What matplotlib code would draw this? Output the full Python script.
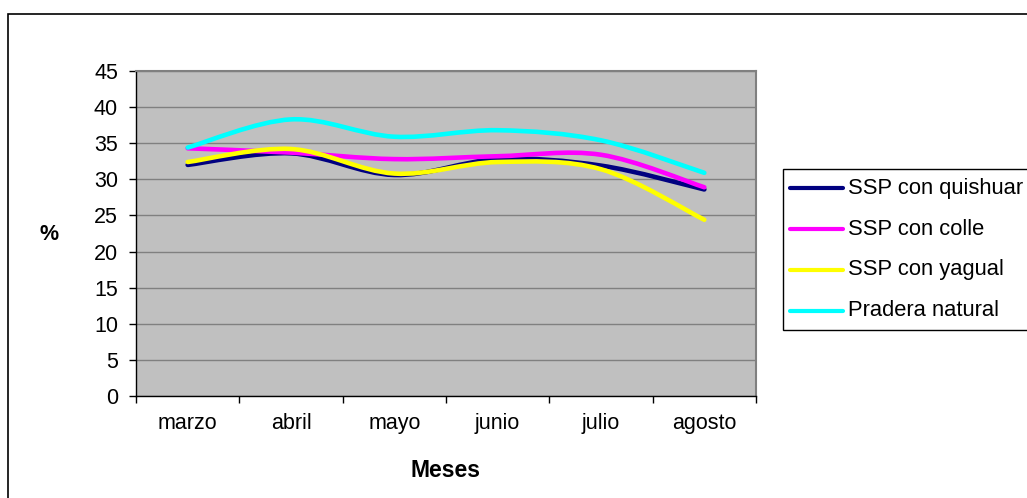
import matplotlib
matplotlib.use("Agg")
import matplotlib.pyplot as plt
from matplotlib.path import Path
from matplotlib.patches import PathPatch, Rectangle
from matplotlib.lines import Line2D
import numpy as np

# ---- data ----
meses = ["marzo", "abril", "mayo", "junio", "julio", "agosto"]
series_names = ["SSP con quishuar", "SSP con colle", "SSP con yagual", "Pradera natural"]
quishuar = [32.0, 33.6, 30.6, 32.8, 31.9, 28.6]
colle = [34.3, 33.7, 32.8, 33.2, 33.4, 28.9]
yagual = [32.4, 34.2, 30.8, 32.4, 31.4, 24.4]
pradera = [34.4, 38.3, 35.9, 36.8, 35.4, 30.9]
series_colors = ["#000080", "#FF00FF", "#FFFF00", "#00FFFF"]
y_ticks = [0, 5, 10, 15, 20, 25, 30, 35, 40, 45]

W, H = 1027, 498
plt.rcParams["font.family"] = ["Liberation Sans", "DejaVu Sans"]
FS = 15.5
LEG_FS = 15.8

fig = plt.figure(figsize=(W / 100, H / 100), dpi=100)
fig.patch.set_facecolor("white")


def fx(px):
    return px / W


def fy(py):
    return 1 - py / H


ax = fig.add_axes([fx(136), fy(396), 620 / W, 325 / H])
ax.set_facecolor("#C0C0C0")
ax.set_xlim(0, len(meses))
ax.set_ylim(0, 45)


def smooth_path(xs, ys):
    """Cubic Bezier path through the points (Catmull-Rom style smoothing)."""
    pts = np.column_stack([xs, ys]).astype(float)
    n = len(pts)
    verts = [pts[0]]
    codes = [Path.MOVETO]
    for i in range(n - 1):
        p0 = pts[i - 1] if i > 0 else pts[i]
        p1 = pts[i]
        p2 = pts[i + 1]
        p3 = pts[i + 2] if i + 2 < n else pts[i + 1]
        c1 = p1 + (p2 - p0) / 6.0
        c2 = p2 - (p3 - p1) / 6.0
        verts += [c1, c2, p2]
        codes += [Path.CURVE4] * 3
    return Path(verts, codes)


xpos = np.arange(len(meses)) + 0.5
for vals, col in zip([quishuar, colle, yagual, pradera], series_colors):
    patch = PathPatch(smooth_path(xpos, vals), facecolor="none", edgecolor=col,
                      lw=3.3, capstyle="round", joinstyle="round", zorder=3)
    ax.add_patch(patch)

# grid and axes styling
ax.set_yticks(y_ticks)
ax.yaxis.grid(True, color="#808080", lw=1.0)
ax.set_axisbelow(True)
ax.set_xticks(np.arange(len(meses) + 1))
ax.set_xticklabels([])
ax.set_xticks(xpos, minor=True)
ax.set_xticklabels(meses, minor=True, fontsize=FS)
ax.tick_params(axis="x", which="major", direction="out", length=5, width=1, color="black")
ax.tick_params(axis="x", which="minor", length=0, pad=12)
ax.tick_params(axis="y", direction="out", length=5, width=1, color="black",
               labelsize=FS, pad=8)
for side in ["top", "right"]:
    ax.spines[side].set_color("#808080")
    ax.spines[side].set_linewidth(1.5)
for side in ["left", "bottom"]:
    ax.spines[side].set_color("black")
    ax.spines[side].set_linewidth(1.0)

# axis titles
fig.text(fx(445), fy(470), "Meses", ha="center", va="center", fontsize=FS + 1,
         fontweight="bold")
fig.text(fx(49), fy(234), "%", ha="center", va="center", fontsize=FS, fontweight="bold")

# legend
leg_top, leg_bottom = 169, 330
fig.patches.append(Rectangle((fx(783), fy(leg_bottom)), fx(1060) - fx(783),
                             fy(leg_top) - fy(leg_bottom), transform=fig.transFigure,
                             facecolor="white", edgecolor="black", lw=1.0, zorder=1))
row_y = [188, 229.5, 270, 310.5]
for name, col, ry in zip(series_names, series_colors, row_y):
    fig.lines.append(Line2D([fx(790), fx(843)], [fy(ry), fy(ry)], transform=fig.transFigure,
                            color=col, lw=3, solid_capstyle="round", zorder=2))
    fig.text(fx(848), fy(ry), name, ha="left", va="center", fontsize=LEG_FS, zorder=2)

# outer chart frame
fig.patches.append(Rectangle((fx(8), fy(520)), fx(1060) - fx(8), fy(14) - fy(520),
                             transform=fig.transFigure, facecolor="none",
                             edgecolor="black", lw=1.2, zorder=0))

fig.savefig("out.png", dpi=100)
